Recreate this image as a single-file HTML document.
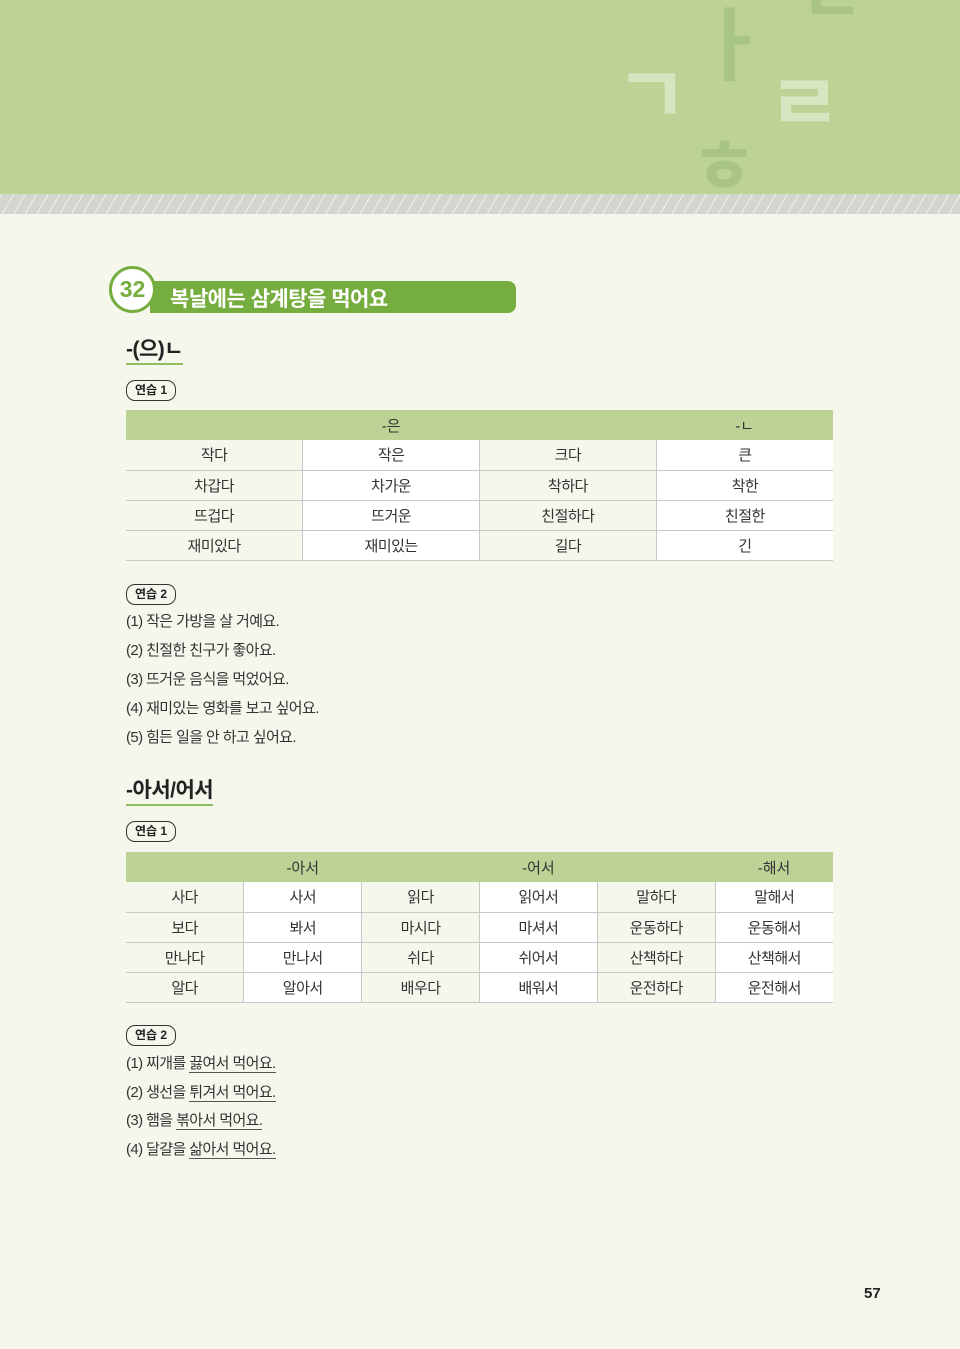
<!DOCTYPE html>
<html><head><meta charset="utf-8">
<style>
*{margin:0;padding:0;box-sizing:border-box}
body{width:960px;height:1349px;background:#f5f7ec;font-family:"Liberation Sans","Noto Sans CJK KR",sans-serif;color:#333;position:relative;overflow:hidden}
.abs{position:absolute}
#hdr{left:0;top:0;width:960px;height:194px;background:#bdd396}
#stripe{left:0;top:194px;width:960px;height:20px;background:repeating-linear-gradient(-60deg,#d3d5cf 0 9px,#eef0ea 9px 10px)}
.jamo{font-weight:bold;font-family:"Noto Sans CJK KR",sans-serif;line-height:1}
#bar{left:150px;top:281px;width:366px;height:32px;background:#76ad3f;border-radius:0 8px 8px 0}
#bar span{position:absolute;left:20px;top:2px;color:#fff;font-size:21px;font-weight:bold;letter-spacing:-0.5px}
#circ{left:109px;top:266px;width:47px;height:47px;border-radius:50%;background:#fff;border:3px solid #76ad3f;text-align:center;font-size:23px;font-weight:bold;color:#76ad3f;line-height:40px}
.sec{left:126px;font-size:21px;font-weight:bold;color:#222;border-bottom:2px solid #8fbf5e;padding-bottom:1px;line-height:24px;letter-spacing:-0.5px}
.tag{left:126px;width:50px;height:21px;border:1.5px solid #333;border-radius:9px;font-size:12px;font-weight:bold;text-align:center;line-height:18px;color:#222}
table{position:absolute;left:126px;width:707px;border-collapse:collapse;table-layout:fixed;font-size:15px;color:#333}
td{text-align:center;height:30px;border-bottom:1.5px solid #c8c8c8;padding:0;letter-spacing:-0.5px}
th{background:#bdd396;font-weight:normal;height:30px;font-size:15px}
td+td{border-left:1.5px solid #c8c8c8}
.w{background:#fff}
.ln{left:126px;font-size:15px;color:#333;line-height:20px;letter-spacing:-0.6px}
u{text-decoration:none;border-bottom:1.5px solid #555}
</style></head><body>
<div id="hdr" class="abs"></div>
<div class="abs jamo" style="left:615px;top:50px;font-size:80px;color:#d7e6c0">ㄱ</div>
<div class="abs jamo" style="left:695px;top:0px;font-size:80px;color:#a9c583">ㅏ</div>
<div class="abs jamo" style="left:800px;top:-40px;font-size:70px;color:#a9c583">ㄴ</div>
<div class="abs jamo" style="left:768px;top:58px;font-size:80px;color:#d7e6c0">ㄹ</div>
<div class="abs jamo" style="left:690px;top:125px;font-size:74px;color:#a9c583">ㅎ</div>
<div id="stripe" class="abs"></div>

<div id="bar" class="abs"><span>복날에는 삼계탕을 먹어요</span></div>
<div id="circ" class="abs">32</div>

<div class="abs sec" style="top:338px">-(으)ㄴ</div>
<div class="abs tag" style="top:380px">연습 1</div>
<table style="top:410px">
<colgroup><col><col><col><col></colgroup>
<tr><th></th><th>-은</th><th></th><th>-ㄴ</th></tr>
<tr><td>작다</td><td class="w">작은</td><td>크다</td><td class="w">큰</td></tr>
<tr><td>차갑다</td><td class="w">차가운</td><td>착하다</td><td class="w">착한</td></tr>
<tr><td>뜨겁다</td><td class="w">뜨거운</td><td>친절하다</td><td class="w">친절한</td></tr>
<tr><td>재미있다</td><td class="w">재미있는</td><td>길다</td><td class="w">긴</td></tr>
</table>
<div class="abs tag" style="top:584px">연습 2</div>
<div class="abs ln" style="top:612px">(1) 작은 가방을 살 거예요.</div>
<div class="abs ln" style="top:641px">(2) 친절한 친구가 좋아요.</div>
<div class="abs ln" style="top:670px">(3) 뜨거운 음식을 먹었어요.</div>
<div class="abs ln" style="top:699px">(4) 재미있는 영화를 보고 싶어요.</div>
<div class="abs ln" style="top:728px">(5) 힘든 일을 안 하고 싶어요.</div>

<div class="abs sec" style="top:779px">-아서/어서</div>
<div class="abs tag" style="top:821px">연습 1</div>
<table style="top:852px">
<colgroup><col><col><col><col><col><col></colgroup>
<tr><th></th><th>-아서</th><th></th><th>-어서</th><th></th><th>-해서</th></tr>
<tr><td>사다</td><td class="w">사서</td><td>읽다</td><td class="w">읽어서</td><td>말하다</td><td class="w">말해서</td></tr>
<tr><td>보다</td><td class="w">봐서</td><td>마시다</td><td class="w">마셔서</td><td>운동하다</td><td class="w">운동해서</td></tr>
<tr><td>만나다</td><td class="w">만나서</td><td>쉬다</td><td class="w">쉬어서</td><td>산책하다</td><td class="w">산책해서</td></tr>
<tr><td>알다</td><td class="w">알아서</td><td>배우다</td><td class="w">배워서</td><td>운전하다</td><td class="w">운전해서</td></tr>
</table>
<div class="abs tag" style="top:1025px">연습 2</div>
<div class="abs ln" style="top:1054px">(1) 찌개를 <u>끓여서 먹어요.</u></div>
<div class="abs ln" style="top:1083px">(2) 생선을 <u>튀겨서 먹어요.</u></div>
<div class="abs ln" style="top:1111px">(3) 햄을 <u>볶아서 먹어요.</u></div>
<div class="abs ln" style="top:1140px">(4) 달걀을 <u>삶아서 먹어요.</u></div>

<div class="abs" style="left:864px;top:1285px;font-size:15px;font-weight:bold;color:#222">57</div>
</body></html>
